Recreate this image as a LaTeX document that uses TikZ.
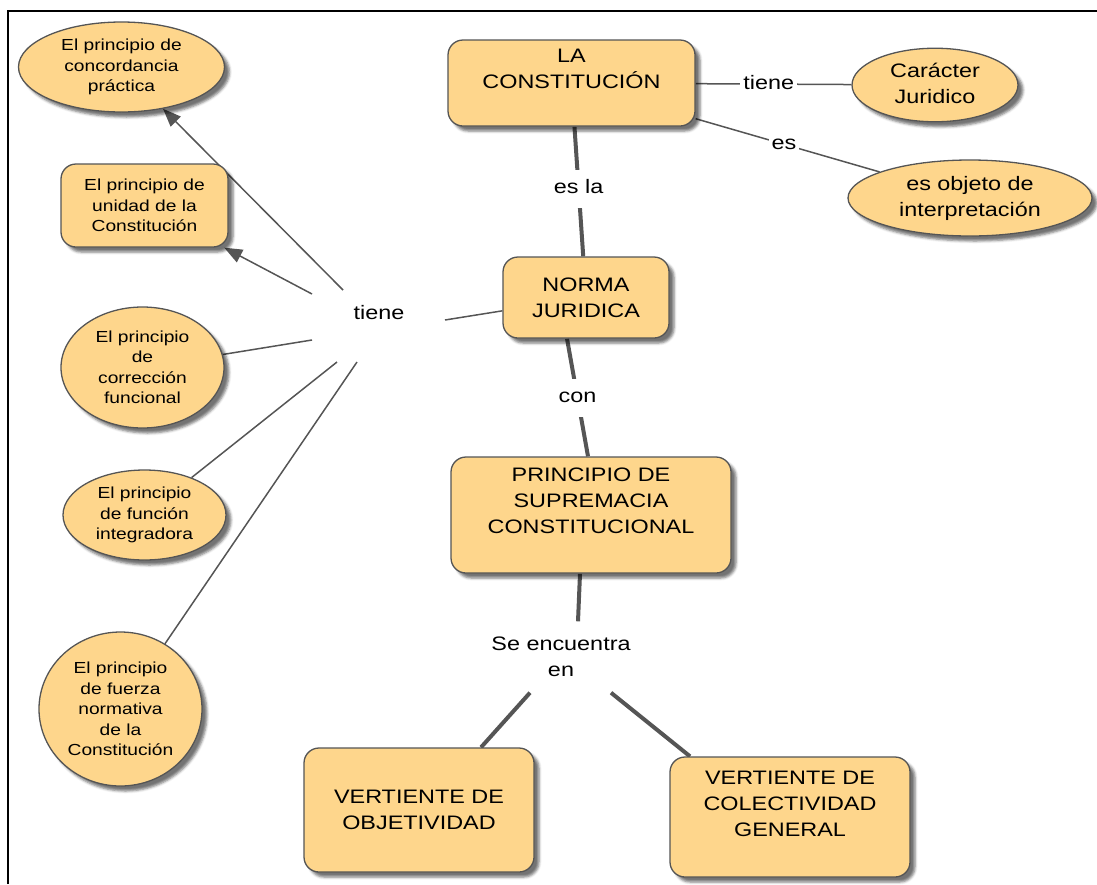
\documentclass[tikz,border=0pt]{standalone}
\usepackage{fontspec}
\setmainfont{Liberation Sans}[FakeStretch=1.2]
\usetikzlibrary{arrows.meta,shapes.geometric,shadows.blur}

\definecolor{conceptfill}{RGB}{254,214,140}
\definecolor{edgegray}{RGB}{85,85,85}

\newcommand{\bigtxt}{\fontsize{19.5}{26}\selectfont}
\newcommand{\smalltxt}{\fontsize{16}{20.5}\selectfont}
% box content pinned to the top edge: height, width, top padding, text
\newcommand{\topblock}[4]{\begin{minipage}[c][#1][t]{#2}\centering\vspace*{#3}#4\end{minipage}}

\pgfdeclarelayer{background}
\pgfsetlayers{background,main}

\begin{document}
\begin{tikzpicture}[x=1pt,y=-1pt,
  concept/.style={draw=edgegray, line width=1.3pt, fill=conceptfill, text=black,
    blur shadow={shadow xshift=5pt, shadow yshift=-5pt, shadow blur radius=2.5pt, shadow opacity=55}},
  cbox/.style={concept, rounded corners=15pt, inner sep=0pt, align=center, font=\bigtxt},
  cell/.style={concept, ellipse, inner sep=0pt, align=center, font=\smalltxt},
  bigcell/.style={cell, font=\bigtxt},
  link/.style={font=\bigtxt, fill=white, inner xsep=3pt, inner ysep=10pt,
    text height=14pt, text depth=4pt},
  thinlink/.style={draw=edgegray, line width=1.5pt},
  thicklink/.style={draw=edgegray, line width=4pt},
  arrowed/.style={-{Triangle[length=18pt,width=14pt,fill=edgegray]}}
]
\useasboundingbox (0,0) rectangle (1097,884);

% frame
\draw[line width=2pt] (8,884) -- (8,11) -- (1097,11);

% central chain
\node[cbox, minimum width=247pt, minimum height=86pt] (con) at (571.5,83)
  {\topblock{86pt}{237pt}{9pt}{LA\\CONSTITUCIÓN}};
\node[cbox, minimum width=166pt, minimum height=81pt] (norma) at (586,297.5)
  {NORMA\\JURIDICA};
\node[cbox, minimum width=280pt, minimum height=116pt] (sup) at (591,515)
  {\topblock{116pt}{270pt}{11pt}{PRINCIPIO DE\\SUPREMACIA\\CONSTITUCIONAL}};
\node[cbox, minimum width=230pt, minimum height=124pt] (obj) at (419,810)
  {VERTIENTE DE\\OBJETIVIDAD};
\node[cbox, minimum width=240pt, minimum height=120pt] (col) at (790,817)
  {\topblock{120pt}{230pt}{14pt}{VERTIENTE DE\\COLECTIVIDAD\\GENERAL}};

% right-hand concepts
\node[bigcell, minimum width=166pt, minimum height=70pt] (car) at (935,85)
  {\raisebox{3pt}{\begin{tabular}{@{}c@{}}Carácter\\Juridico\end{tabular}}};
\node[bigcell, minimum width=244pt, minimum height=76pt] (interp) at (970,198)
  {es objeto de\\interpretación};

% left-hand principles
\node[cell, minimum width=206pt, minimum height=90pt] (conc) at (121.5,67)
  {El principio de\\concordancia\\práctica};
\node[cbox, font=\smalltxt, minimum width=167pt, minimum height=83pt] (uni) at (144.5,205.5)
  {El principio de\\unidad de la\\Constitución};
\node[cell, minimum width=163pt, minimum height=121pt] (corr) at (142.5,367.5)
  {El principio\\de\\corrección\\funcional};
\node[cell, minimum width=163pt, minimum height=90pt] (func) at (144.5,515)
  {El principio\\de función\\integradora};
\node[cell, minimum width=163pt, minimum height=154pt] (fuer) at (120.5,709)
  {El principio\\de fuerza\\normativa\\de la\\Constitución};

% linking phrases without a box
\node[font=\bigtxt] (tl) at (379,313) {tiene};
\node[font=\bigtxt, align=center, inner sep=0pt, minimum width=142pt, minimum height=71pt] (se) at (561,657)
  {Se encuentra\\en};

% loose ends of the "tiene" fan
\coordinate (ta) at (343,290);
\coordinate (tb) at (312,294);
\coordinate (tc) at (312,340);
\coordinate (td) at (337,362);
\coordinate (te) at (357,362);
\coordinate (tf) at (445,320);

\begin{pgfonlayer}{background}
  \draw[thinlink] (con) -- (car) node[link, pos=0.47] {tiene};
  \draw[thinlink] (con) -- (interp) node[link, pos=0.48] {es};
  \draw[thicklink] (con) -- (norma) node[link, pos=0.48] {es la};
  \draw[thicklink] ([xshift=-19pt]norma.south) -- ([xshift=-3pt]sup.north) node[link, midway] {con};
  \draw[thicklink] ([xshift=-11pt]sup.south) -- ([xshift=17pt]se.north);
  \draw[thicklink] ([xshift=-31pt]se.south) -- ([xshift=62pt]obj.north);
  \draw[thicklink] ([xshift=50pt]se.south) -- ([xshift=-100pt]col.north);

  \draw[thinlink] (tf) -- (norma);
  \draw[thinlink, arrowed] (ta) -- (conc);
  \draw[thinlink, arrowed] (tb) -- (uni);
  \draw[thinlink] (tc) -- (corr);
  \draw[thinlink] (td) -- (func);
  \draw[thinlink] (te) -- (fuer);
\end{pgfonlayer}
\end{tikzpicture}
\end{document}
